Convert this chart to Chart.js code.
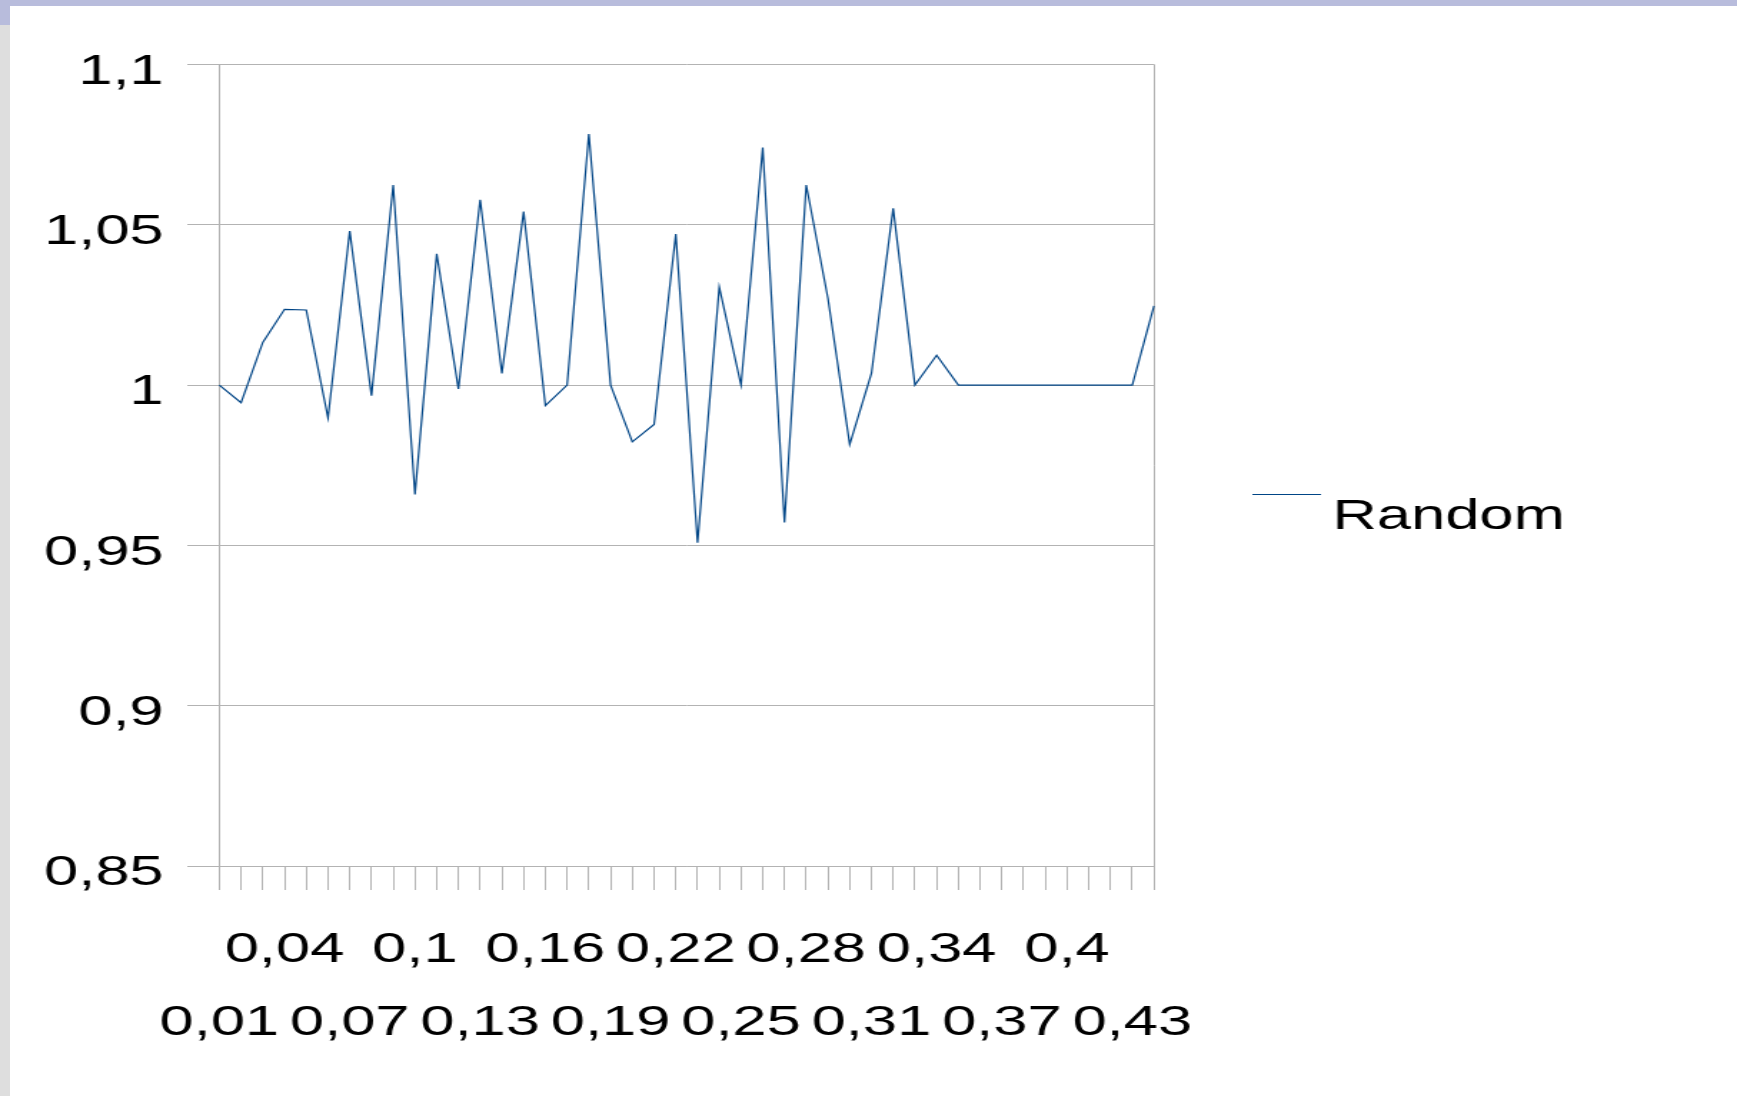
<!DOCTYPE html>
<html>
<head>
<meta charset="utf-8">
<title>Random</title>
<script src="https://cdn.jsdelivr.net/npm/chart.js@4.4.1/dist/chart.umd.min.js"></script>
<style>
  html, body { margin: 0; padding: 0; background: #ffffff; overflow: hidden; }
  #page { position: relative; width: 1737px; height: 1096px; background: #ffffff; }
  #topbar { position: absolute; left: 0; top: 0; width: 1737px; height: 6px; background: #b8bcdc; }
  #sidebar { position: absolute; left: 0; top: 6px; width: 10px; height: 1090px; background: #dedede; }
  #corner { position: absolute; left: 0; top: 0; width: 10px; height: 25px; background: #b8bcdc; }
  #chart { position: absolute; left: 0; top: 0; width: 1737px; height: 1096px; }
</style>
</head>
<body>
<div id="page">
  <div id="topbar"></div>
  <div id="sidebar"></div>
  <div id="corner"></div>
  <canvas id="chart" width="1215" height="1096" style="width:1737px;height:1096px"></canvas>
</div>
<script>
// Categories along the x axis
const xLabels = [
  '0,01','0,02','0,03','0,04','0,05','0,06','0,07','0,08','0,09','0,1',
  '0,11','0,12','0,13','0,14','0,15','0,16','0,17','0,18','0,19','0,2',
  '0,21','0,22','0,23','0,24','0,25','0,26','0,27','0,28','0,29','0,3',
  '0,31','0,32','0,33','0,34','0,35','0,36','0,37','0,38','0,39','0,4',
  '0,41','0,42','0,43','0,44'
];

// Series values
const randomValues = [
  1.0000, 0.9945, 1.0133, 1.0236, 1.0234, 0.9898, 1.0480, 0.9967, 1.0624, 0.9659,
  1.0409, 0.9988, 1.0578, 1.0036, 1.0541, 0.9936, 1.0000, 1.0783, 1.0000, 0.9823,
  0.9877, 1.0471, 0.9508, 1.0305, 1.0000, 1.0741, 0.9571, 1.0624, 1.0270, 0.9815,
  1.0036, 1.0551, 1.0000, 1.0093, 1.0000, 1.0000, 1.0000, 1.0000, 1.0000, 1.0000,
  1.0000, 1.0000, 1.0000, 1.0247
];

// Y axis tick values
const yTicks = [0.85, 0.9, 0.95, 1, 1.05, 1.1];

const seriesName = 'Random';
const lineColor = '#004586';
const gridColor = '#b3b3b3';
const textColor = '#000000';
const fontFamily = '"Liberation Sans", Arial, Helvetica, sans-serif';

function fmt(v) {
  return String(Number(v.toFixed(2))).replace('.', ',');
}

// Legend drawn beside the plot: line sample plus series name
const sideLegend = {
  id: 'sideLegend',
  afterDraw(chart) {
    const ctx = chart.ctx;
    const ds = chart.data.datasets[0];
    ctx.save();
    ctx.strokeStyle = ds.borderColor;
    ctx.lineWidth = 1;
    ctx.beginPath();
    ctx.moveTo(876, 494.5);
    ctx.lineTo(924, 494.5);
    ctx.stroke();
    ctx.font = '43px ' + fontFamily;
    ctx.fillStyle = textColor;
    ctx.textAlign = 'left';
    ctx.textBaseline = 'alphabetic';
    ctx.fillText(ds.label, 932, 529);
    ctx.restore();
  }
};

new Chart(document.getElementById('chart'), {
  type: 'line',
  data: {
    labels: xLabels,
    datasets: [{
      label: seriesName,
      data: randomValues,
      borderColor: lineColor,
      backgroundColor: lineColor,
      borderWidth: 1.2,
      pointRadius: 0,
      pointHoverRadius: 0,
      tension: 0,
      fill: false
    }]
  },
  options: {
    responsive: false,
    animation: false,
    devicePixelRatio: 1,
    layout: { padding: { left: 0, top: 64.4, right: 407.8, bottom: 0 } },
    plugins: {
      legend: { display: false },
      tooltip: { enabled: false },
      title: { display: false }
    },
    scales: {
      x: {
        type: 'category',
        offset: false,
        border: { display: true, color: gridColor, width: 1 },
        grid: {
          drawOnChartArea: true,
          drawTicks: true,
          tickLength: 24,
          color: (c) => (c.index === 0 || c.index === xLabels.length - 1) ? gridColor : 'rgba(0,0,0,0)',
          tickColor: gridColor,
          lineWidth: 1
        },
        ticks: {
          autoSkip: false,
          maxRotation: 0,
          minRotation: 0,
          padding: 24,
          color: textColor,
          font: { family: fontFamily, size: 43, lineHeight: 1.698 },
          callback: function (value, index) {
            const lbl = xLabels[index];
            if (index % 6 === 0) return ['', lbl];
            if (index % 6 === 3) return [lbl, ''];
            return '';
          }
        },
        afterFit: (scale) => { scale.height = 230; }
      },
      y: {
        type: 'linear',
        min: 0.85,
        max: 1.1,
        border: { display: true, color: gridColor, width: 1 },
        grid: {
          color: gridColor,
          lineWidth: 1,
          drawTicks: true,
          tickLength: 22.4
        },
        afterBuildTicks: (scale) => { scale.ticks = yTicks.map(v => ({ value: v })); },
        ticks: {
          padding: 16.5,
          labelOffset: 7.5,
          color: textColor,
          font: { family: fontFamily, size: 43 },
          callback: (v) => fmt(v)
        },
        afterFit: (scale) => { scale.width = 153.4; }
      }
    }
  },
  plugins: [sideLegend]
});
</script>
</body>
</html>
